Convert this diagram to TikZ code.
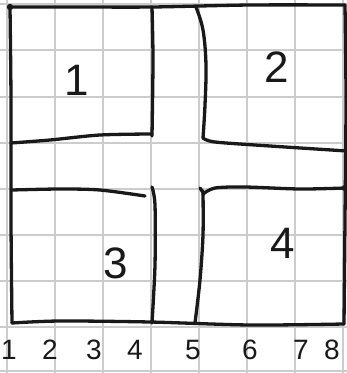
\documentclass[tikz,border=0pt]{standalone}
\usepackage{fontspec}
\setmainfont{Liberation Sans}
\begin{document}
\begin{tikzpicture}[x=1pt,y=-1pt,
  gridline/.style={draw=black!20,line width=1.2pt},
  wall/.style={draw=black!90,line width=3.3pt,line cap=round,line join=round},
  roomlabel/.style={font=\fontsize{44}{44}\selectfont,text=black!90,inner sep=0pt},
  axislabel/.style={font=\fontsize{28}{28}\selectfont,text=black!90,inner sep=0pt}]
\useasboundingbox (0,0) rectangle (347,373);
\fill[white] (0,0) rectangle (347,373);
% grid paper
\foreach \x in {7,55,103,151,199,247,295,343} \draw[gridline] (\x,0) -- (\x,373);
\foreach \y in {4,50,97,143,189,235,281,327,371} \draw[gridline] (0,\y) -- (347,\y);
% outer frame
\draw[wall] plot[smooth,tension=0.5] coordinates {(10,7) (80,7) (152,7) (250,5) (345,5)};
\draw[wall] plot[smooth,tension=0.5] coordinates {(10,7) (11,100) (11,220) (12,323)};
\draw[wall] plot[smooth,tension=0.5] coordinates {(345,5) (346,100) (345,220) (344,324)};
\draw[wall] plot[smooth,tension=0.5] coordinates {(12,323) (60,321) (150,322) (250,325) (344,324)};
\fill[black!90] (10,7) circle (3.2pt);
\fill[black!90] (345,188) circle (3.2pt);
% room 1
\draw[wall] plot[smooth,tension=0.5] coordinates {(152,7) (153,60) (152,136)};
\draw[wall] plot[smooth,tension=0.5] coordinates {(11,143) (50,140) (100,135) (152,134)};
% room 2
\draw[wall] plot[smooth,tension=0.6] coordinates {(196,7) (203,30) (206,65) (205,105) (203,138)};
\draw[wall] plot[smooth,tension=0.5] coordinates {(203,138) (215,142) (270,146) (347,151)};
% room 3
\draw[wall] plot[smooth,tension=0.5] coordinates {(12,190) (60,189) (100,190) (145,196)};
\draw[wall] plot[smooth,tension=0.5] coordinates {(152,187) (155,205) (155,265) (152,323)};
% room 4
\draw[wall] plot[smooth,tension=0.5] coordinates {(203,191) (203,235) (200,280) (195,323)};
\draw[wall] plot[smooth,tension=0.5] coordinates {(203,194) (215,188) (245,187) (300,189) (345,188)};
\draw[wall] (200,188) -- (204,194);
% room numbers
\node[roomlabel] (r1) at (77,80) {1};
\node[roomlabel] (r2) at (277,67) {2};
\node[roomlabel] (r3) at (116,263) {3};
\node[roomlabel] (r4) at (283,243) {4};
% axis numbers
\node[axislabel] (a1) at (9,350) {1};
\node[axislabel] (a2) at (50,350) {2};
\node[axislabel] (a3) at (94,350) {3};
\node[axislabel] (a4) at (135,350) {4};
\node[axislabel] (a5) at (193,350) {5};
\node[axislabel] (a6) at (250,350) {6};
\node[axislabel] (a7) at (301,350) {7};
\node[axislabel] (a8) at (332,350) {8};
\end{tikzpicture}
\end{document}
